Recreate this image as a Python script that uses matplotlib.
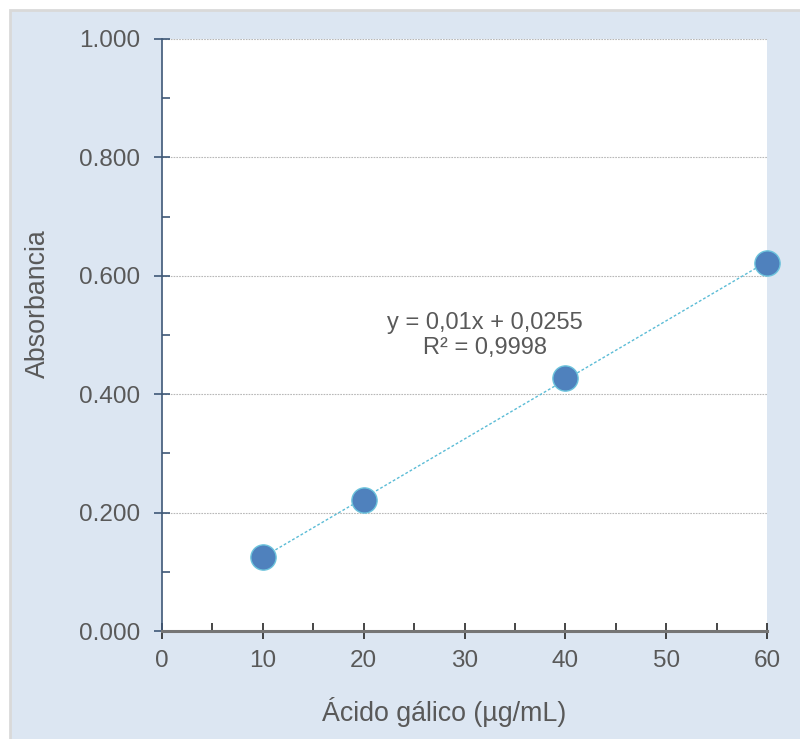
import matplotlib.pyplot as plt
import numpy as np
from matplotlib.patches import Rectangle
from matplotlib.ticker import MultipleLocator, FormatStrFormatter

plt.rcParams["font.family"] = ["Liberation Sans", "DejaVu Sans"]

# data
concentration = [10, 20, 40, 60]
absorbance = [0.125, 0.222, 0.428, 0.622]
equation_text = "y = 0,01x + 0,0255\nR² = 0,9998"

text_col = "#595959"

fig = plt.figure(figsize=(8, 7.39), dpi=100, facecolor="white")
# light blue chart area with a grey frame
fig.patches.append(Rectangle((10 / 800, -0.01), 1.0, 1 - 10 / 739 + 0.01,
                             transform=fig.transFigure, facecolor="#dce6f2",
                             edgecolor="#d9d9d9", linewidth=2, zorder=-10))

ax = fig.add_axes([162 / 800, 1 - 631 / 739, 605 / 800, 592 / 739])
ax.set_facecolor("white")

# linear trendline
coef = np.polyfit(concentration, absorbance, 1)
xs = np.array([min(concentration), max(concentration)])
ax.plot(xs, np.polyval(coef, xs), color="#5bbcd6", linewidth=1.0,
        linestyle=(0, (2, 1.5)), zorder=3)

ax.scatter(concentration, absorbance, s=330, color="#4f81bd",
           edgecolors="#6cc3dc", linewidths=1.0, zorder=4, clip_on=False)

ax.text(32, 0.499, equation_text, ha="center", va="center", fontsize=17,
        color=text_col, linespacing=1.2)

ax.set_xlim(0, 60)
ax.set_ylim(0, 1.0)
ax.xaxis.set_major_locator(MultipleLocator(10))
ax.xaxis.set_minor_locator(MultipleLocator(5))
ax.yaxis.set_major_locator(MultipleLocator(0.2))
ax.yaxis.set_minor_locator(MultipleLocator(0.1))
ax.yaxis.set_major_formatter(FormatStrFormatter("%.3f"))

ax.grid(True, axis="y", which="major", color="#b8b8b8", linestyle=(0, (1.5, 1)),
        linewidth=0.8)
ax.set_axisbelow(True)

for side in ["top", "right"]:
    ax.spines[side].set_visible(False)
ax.spines["left"].set_color("#3e5877")
ax.spines["left"].set_linewidth(1.2)
ax.spines["bottom"].set_color("#757575")
ax.spines["bottom"].set_linewidth(2.2)

ax.tick_params(axis="x", which="major", direction="inout", length=12,
               width=1.2, color="#262626", labelsize=17.5, labelcolor=text_col,
               pad=8)
ax.tick_params(axis="x", which="minor", direction="in", length=6, width=1.2,
               color="#262626")
ax.tick_params(axis="y", which="major", direction="inout", length=12,
               width=1.2, color="#3e5877", labelsize=17.5, labelcolor=text_col,
               pad=10)
ax.tick_params(axis="y", which="minor", direction="in", length=6, width=1.2,
               color="#3e5877")

ax.set_xlabel("Ácido gálico (µg/mL)", fontsize=19.3, color=text_col, va="center")
ax.set_ylabel("Absorbancia", fontsize=19.3, color=text_col, va="center")
ax.xaxis.set_label_coords((444 - 162) / 605, -(712 - 631) / 592)
ax.yaxis.set_label_coords((38 - 162) / 605, (631 - 304) / 592)

fig.savefig("out.png", dpi=100, facecolor=fig.get_facecolor())
